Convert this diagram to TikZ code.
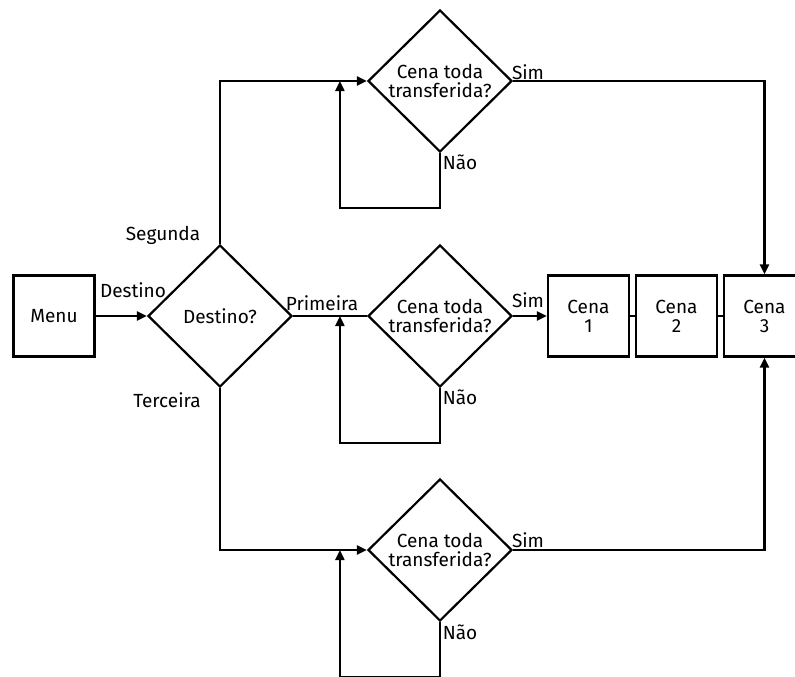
\documentclass[tikz,border=0pt]{standalone}
\usepackage{fontspec}
\setmainfont{Fira Sans}
\usetikzlibrary{positioning}
\usetikzlibrary{arrows.meta}
\usetikzlibrary{calc}
\usetikzlibrary{shapes.geometric}

\begin{document}
\begin{tikzpicture}[x=1pt,y=-1pt,
        every node/.style={font=\fontsize{19}{19}\selectfont},
        box/.style={draw,line width=2.2pt,minimum width=81pt,minimum height=81pt,inner sep=0pt,align=center},
        choice/.style={draw,diamond,line width=2.2pt,minimum width=144pt,minimum height=142pt,inner sep=0pt,align=center},
        flow/.style={line width=2.2pt,-{Triangle[length=10pt,width=9pt]}},
        link/.style={line width=2.2pt}]
        \useasboundingbox (0,0) rectangle (795,677);

        \node[box] (Menu) at (54,316) {Menu};
        \node[choice] (Destino) at (220,316) {Destino?};
        \node[choice] (CenaA) at (440,81) {Cena toda\\transferida?};
        \node[choice] (CenaB) at (440,316) {Cena toda\\transferida?};
        \node[choice] (CenaC) at (440,550) {Cena toda\\transferida?};
        \node[box] (Cena1) at (588.5,316) {Cena\\1};
        \node[box] (Cena2) at (676.5,316) {Cena\\2};
        \node[box] (Cena3) at (764.5,316) {Cena\\3};

        \node (lDestino) at (133,290) {Destino};
        \node (lSegunda) at (163,235) {Segunda};
        \node (lTerceira) at (167,400) {Terceira};
        \node (lPrimeira) at (322,303) {Primeira};
        \node (lSimA) at (528,72) {Sim};
        \node (lSimB) at (528,300) {Sim};
        \node (lSimC) at (528,540) {Sim};
        \node (lNaoA) at (460,162) {Não};
        \node (lNaoB) at (460,397) {Não};
        \node (lNaoC) at (460,632) {Não};

        \draw[flow] (Menu) -- (Destino.west);
        \draw[flow] (Destino.north) |- (CenaA.west);
        \draw[link] (Destino.east) -- (CenaB.west);
        \draw[flow] (Destino.south) |- (CenaC.west);

        %loops back to the test
        \draw[flow] (CenaA.south) -- ++(0,55) -| ($(CenaA.west)+(-27,0)$);
        \draw[flow] (CenaB.south) -- ++(0,55) -| ($(CenaB.west)+(-27,0)$);
        \draw[flow] (CenaC.south) -- ++(0,55) -| ($(CenaC.west)+(-27,0)$);

        \draw[flow] (CenaB.east) -- (Cena1.west);
        \draw[link] (Cena1) -- (Cena2) -- (Cena3);
        \draw[flow] (CenaA.east) -| (Cena3.north);
        \draw[flow] (CenaC.east) -| (Cena3.south);
    \end{tikzpicture}
\end{document}
